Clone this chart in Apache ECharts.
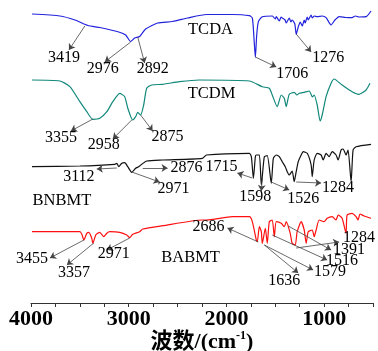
<!DOCTYPE html>
<html>
<head>
<meta charset="utf-8">
<script src="https://cdn.jsdelivr.net/npm/echarts@6/dist/echarts.min.js"></script>
<style>
  html, body { margin: 0; padding: 0; background: #fff; }
  #main { width: 378px; height: 351px; }
</style>
</head>
<body>
<div id="main"></div>
<script>
// wavenumber (cm-1), offset intensity
const tcda = [
  [3990, 289], [3704, 287], [3551, 283], [3418, 277.5], [3296, 275.5], [3102, 271], [3031, 268],
  [2980, 261.5], [2939, 265], [2888, 266.5], [2827, 274], [2704, 280], [2551, 281.5], [2398, 285],
  [2204, 288.5], [1939, 288.5], [1765, 287.3], [1735, 285], [1720, 268], [1704, 245.7], [1690, 268],
  [1673, 281.3], [1633, 286.3], [1530, 287], [1500, 284], [1490, 286.3], [1459, 282], [1440, 286],
  [1429, 285], [1400, 283], [1388, 280], [1357, 285], [1340, 281], [1327, 283], [1300, 279],
  [1286, 268.7], [1265, 276], [1245, 281], [1224, 277], [1204, 283], [1194, 280], [1173, 286],
  [1163, 283], [1133, 288], [1122, 285], [1100, 287], [1071, 286.3], [1020, 287], [980, 285.3],
  [929, 278], [890, 283], [867, 285], [847, 286.3], [780, 285.5], [714, 285.3], [680, 287],
  [643, 286], [571, 286.3], [520, 292]
];
const tcdm = [
  [3990, 223], [3704, 222], [3602, 216.3], [3500, 201.3], [3429, 191.3], [3367, 183.7], [3296, 184.7],
  [3224, 191.3], [3163, 201.3], [3092, 209.7], [3041, 206.3], [3010, 195], [2959, 183], [2929, 186.3],
  [2908, 190.7], [2878, 188], [2847, 198], [2816, 214.7], [2765, 218], [2653, 218.7], [2480, 221.3],
  [2276, 223], [1765, 222], [1633, 216.3], [1561, 214.7], [1531, 208], [1480, 196.3], [1439, 208],
  [1408, 204.7], [1388, 196.3], [1357, 208.7], [1306, 210.7], [1280, 208], [1255, 209.7], [1204, 210.7],
  [1153, 212], [1120, 206], [1102, 208], [1071, 198], [1041, 182], [1020, 188], [980, 206.3],
  [929, 219.7], [898, 224], [816, 218], [714, 211.3], [643, 208.7], [571, 213], [531, 219.7]
];
const bnbmt = [
  [3990, 136.3], [3500, 137], [3143, 138.7], [3122, 139.7], [3102, 136.3], [3071, 139.7], [3041, 140.3],
  [3010, 136.3], [2969, 130.7], [2929, 134.7], [2898, 136.3], [2867, 138.7], [2816, 142], [2653, 143],
  [2245, 144.7], [2204, 148], [1765, 149.7], [1745, 146.3], [1724, 124.7], [1704, 146.3], [1694, 148],
  [1663, 148], [1643, 118], [1612, 146.3], [1582, 147.3], [1541, 119.7], [1520, 144.7], [1490, 148],
  [1459, 146.3], [1429, 141.3], [1398, 136.3], [1378, 131.3], [1357, 128], [1327, 132], [1306, 121.3],
  [1286, 131.3], [1265, 141.3], [1235, 148], [1214, 151.3], [1173, 149.7], [1133, 138], [1122, 126.3],
  [1102, 143], [1071, 149.7], [1031, 148], [1010, 143], [980, 149.7], [949, 146.3], [918, 151.3],
  [878, 148], [857, 143], [827, 153], [806, 154], [776, 148], [755, 153], [724, 121.3], [704, 153],
  [673, 156.3], [520, 158.7]
];
const babmt = [
  [3990, 71.3], [3500, 71.3], [3480, 68.7], [3459, 63], [3429, 69.7], [3408, 70.7], [3378, 64.7],
  [3367, 59.7], [3337, 68], [3296, 70.7], [3255, 66.3], [3224, 69.7], [3194, 71.3], [3092, 70.7],
  [3020, 68], [2990, 65.3], [2959, 68.7], [2888, 71.3], [2857, 74], [2653, 77.3], [2245, 83],
  [2204, 83], [1939, 86.3], [1765, 86.3], [1735, 81.3], [1694, 63], [1684, 61.3], [1663, 76.3],
  [1643, 71.3], [1633, 59.7], [1602, 74.7], [1582, 59.7], [1561, 81.3], [1531, 83], [1510, 66.3],
  [1490, 81.3], [1439, 79.7], [1408, 76.3], [1388, 81.3], [1347, 69.7], [1327, 59.7], [1296, 58],
  [1276, 71.3], [1235, 81.3], [1204, 73], [1184, 59.7], [1163, 71.3], [1122, 73], [1102, 66.3],
  [1082, 73], [1051, 83], [1000, 81.3], [969, 84.7], [918, 86.3], [878, 83], [857, 88], [816, 84.7],
  [776, 69.7], [765, 88], [714, 89.7], [673, 86.3], [653, 83], [633, 89], [592, 87], [520, 84.7]
];

const xTicks = [4000, 3000, 2000, 1000];

// label, peak [wn, y], arrow end [wn, y], text centre [wn, y]
const tcdaPeaks = [
  ["3419", [3449, 277], [3612, 253], [3663, 245]],
  ["2976", [2980, 261], [3245, 241], [3265, 234]],
  ["2892", [2908, 266], [2837, 240], [2755, 234]],
  ["1706", [1704, 246], [1490, 236], [1327, 229]],
  ["1276", [1286, 269], [1133, 251], [959, 245]]
];
const tcdmPeaks = [
  ["3355", [3367, 184], [3592, 172], [3694, 165]],
  ["2958", [2969, 183], [3163, 164], [3255, 158]],
  ["2875", [2878, 188], [2755, 172], [2602, 166]]
];
const bnbmtPeaks = [
  ["3112", [3122, 135], [3327, 134], [3510, 126]],
  ["2971", [2969, 131], [2684, 121], [2541, 114]],
  ["2876", [2857, 135], [2602, 135], [2408, 135]],
  ["1715", [1735, 125], [1888, 130], [2051, 136]],
  ["1598", [1633, 125], [1643, 112], [1704, 106]],
  ["1526", [1541, 121], [1357, 113], [1214, 104]],
  ["1284", [1286, 121], [1031, 120], [857, 115]]
];
const babmtPeaks = [
  ["3455", [3459, 63], [3806, 45], [3990, 44]],
  ["3357", [3357, 60], [3633, 38], [3561, 30]],
  ["2971", [2990, 65], [3224, 53], [3153, 49]],
  ["2686", [1673, 61], [1990, 75], [2184, 76]],
  ["1636", [1612, 58], [1265, 30], [1408, 22]],
  ["1579", [1612, 58], [1112, 33], [939, 31]],
  ["1516", [1531, 68], [969, 43], [816, 42]],
  ["1391", [1367, 77], [929, 53], [745, 53]],
  ["1284", [1286, 55], [847, 61], [643, 65]]
];

const names = [
  ["TCDA", [2163, 273]],
  ["TCDM", [2153, 209]],
  ["BNBMT", [3684, 102]],
  ["BABMT", [2367, 45]]
];

const serif = "'Liberation Serif', 'Times New Roman', serif";

function makeSeries(name, data, color, peaks, label) {
  return {
    name: name,
    type: "line",
    data: data,
    symbol: "none",
    smooth: 0.2,
    lineStyle: { color: color, width: 1.2 },
    markLine: {
      silent: true,
      symbol: ["none", "arrow"],
      symbolSize: 6,
      label: { show: false },
      lineStyle: { type: "solid", color: "#444", width: 0.8 },
      data: peaks.map(p => [{ coord: p[1] }, { coord: p[2] }])
    },
    markPoint: {
      silent: true,
      symbol: "circle",
      symbolSize: 0,
      label: {
        show: true,
        position: "inside",
        color: "#000",
        fontFamily: serif,
        fontSize: 16,
        formatter: p => p.name
      },
      data: peaks.map(p => ({ name: p[0], coord: p[3] })).concat([
        { name: label[0], coord: label[1], label: { fontSize: 16.5 } }
      ])
    }
  };
}

const myChart = echarts.init(document.getElementById("main"));

const option = {
  animation: false,
  grid: { left: 31, right: 5, top: 10, bottom: 48, outerBoundsMode: "none" },
  xAxis: {
    type: "value",
    inverse: true,
    min: 500,
    max: 4000,
    interval: 250,
    axisLine: { lineStyle: { color: "#333", width: 1.2 } },
    axisTick: { length: 4, lineStyle: { color: "#333" } },
    splitLine: { show: false },
    axisLabel: {
      color: "#000",
      fontFamily: serif,
      fontWeight: "bold",
      fontSize: 22,
      margin: 5,
      formatter: v => (xTicks.indexOf(v) >= 0 ? String(v) : "")
    },
    name: "{a|波数/(cm}{s|-1}{a|)}",
    nameLocation: "middle",
    nameGap: 27,
    nameMoveOverlap: false,
    nameTextStyle: {
      rich: {
        a: { fontFamily: "'Liberation Serif', 'Noto Sans CJK SC', serif", fontWeight: "bold", fontSize: 22, color: "#000", lineHeight: 24 },
        s: { fontFamily: serif, fontWeight: "bold", fontSize: 12, color: "#000", verticalAlign: "top", lineHeight: 24, padding: [0, 0, 8, 0] }
      }
    }
  },
  yAxis: {
    type: "value",
    min: 0,
    max: 293,
    show: false
  },
  series: [
    makeSeries("TCDA", tcda, "#2323dc", tcdaPeaks, names[0]),
    makeSeries("TCDM", tcdm, "#10887a", tcdmPeaks, names[1]),
    makeSeries("BNBMT", bnbmt, "#111111", bnbmtPeaks, names[2]),
    makeSeries("BABMT", babmt, "#ff1010", babmtPeaks, names[3])
  ]
};

myChart.setOption(option);
</script>
</body>
</html>
